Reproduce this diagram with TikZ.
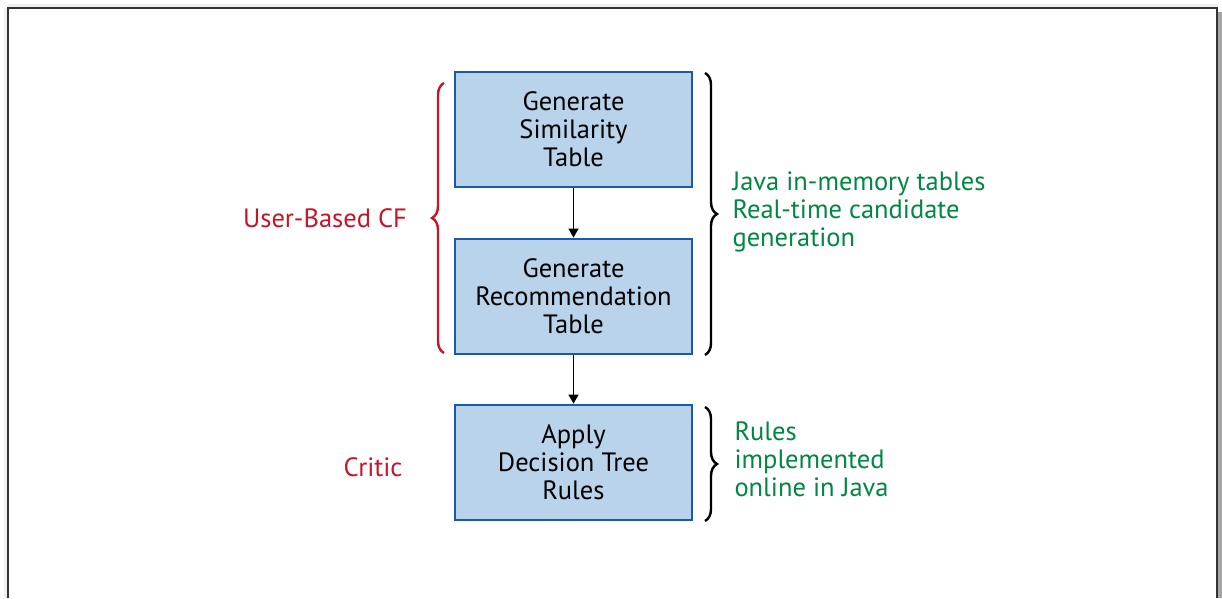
\documentclass[tikz,border=0pt]{standalone}
\usepackage{fontspec}
\setmainfont{PT Sans}
\usetikzlibrary{arrows.meta,decorations.pathreplacing}
\definecolor{boxfill}{RGB}{185,211,235}
\definecolor{boxline}{RGB}{25,90,170}
\definecolor{cfred}{RGB}{200,20,40}
\definecolor{javagreen}{RGB}{0,135,65}

\begin{document}
\begin{tikzpicture}[x=1pt, y=1pt,
  stepbox/.style={draw=boxline, line width=2.8pt, fill=boxfill, minimum width=237pt,
    minimum height=115pt, align=center, font=\fontsize{26.5}{28}\selectfont},
  note/.style={align=left, anchor=west, font=\fontsize{26.5}{28}\selectfont},
  bracepath/.style={decorate, decoration={brace, amplitude=12pt}, line width=2.4pt}]
  \useasboundingbox (0, 0) rectangle (1222, 598);
  % frame and shadow
  \fill [gray!70] (1218, 0) rectangle (1222, 586);
  \fill [gray!12] (4, 0) rectangle (8, 590);
  \fill [gray!12] (8, 590) rectangle (1218, 594);
  \draw [line width=1.8pt, black!80] (8, 0) -- (8, 590) -- (1217, 590) -- (1217, 0);

  % boxes
  \node [stepbox] (sim) at (573.5, 468.5) {Generate\\Similarity\\Table};
  \node [stepbox] (rec) at (573.5, 301.5) {Generate\\Recommendation\\Table};
  \node [stepbox] (dec) at (573.5, 135.5) {Apply\\Decision Tree\\Rules};
  \draw [line width=1.3pt, -{Triangle[length=9pt, width=10pt]}] (sim) -- (rec);
  \draw [line width=1.3pt, -{Triangle[length=9pt, width=10pt]}] (rec) -- (dec);

  % braces
  \draw [bracepath, cfred] (444, 245) -- (444, 515);
  \draw [bracepath] (705, 525) -- (705, 243);
  \draw [bracepath] (705, 191) -- (705, 77);

  % labels
  \node [note, anchor=center, text=cfred] (cf) at (325, 380) {User-Based CF};
  \node [note, anchor=center, text=cfred] (critic) at (373, 131) {Critic};
  \node [note, text=javagreen] (java) at (729, 386) {Java in-memory tables\\Real-time candidate\\generation};
  \node [note, text=javagreen] (rules) at (731, 139) {Rules\\implemented\\online in Java};
\end{tikzpicture}
\end{document}
